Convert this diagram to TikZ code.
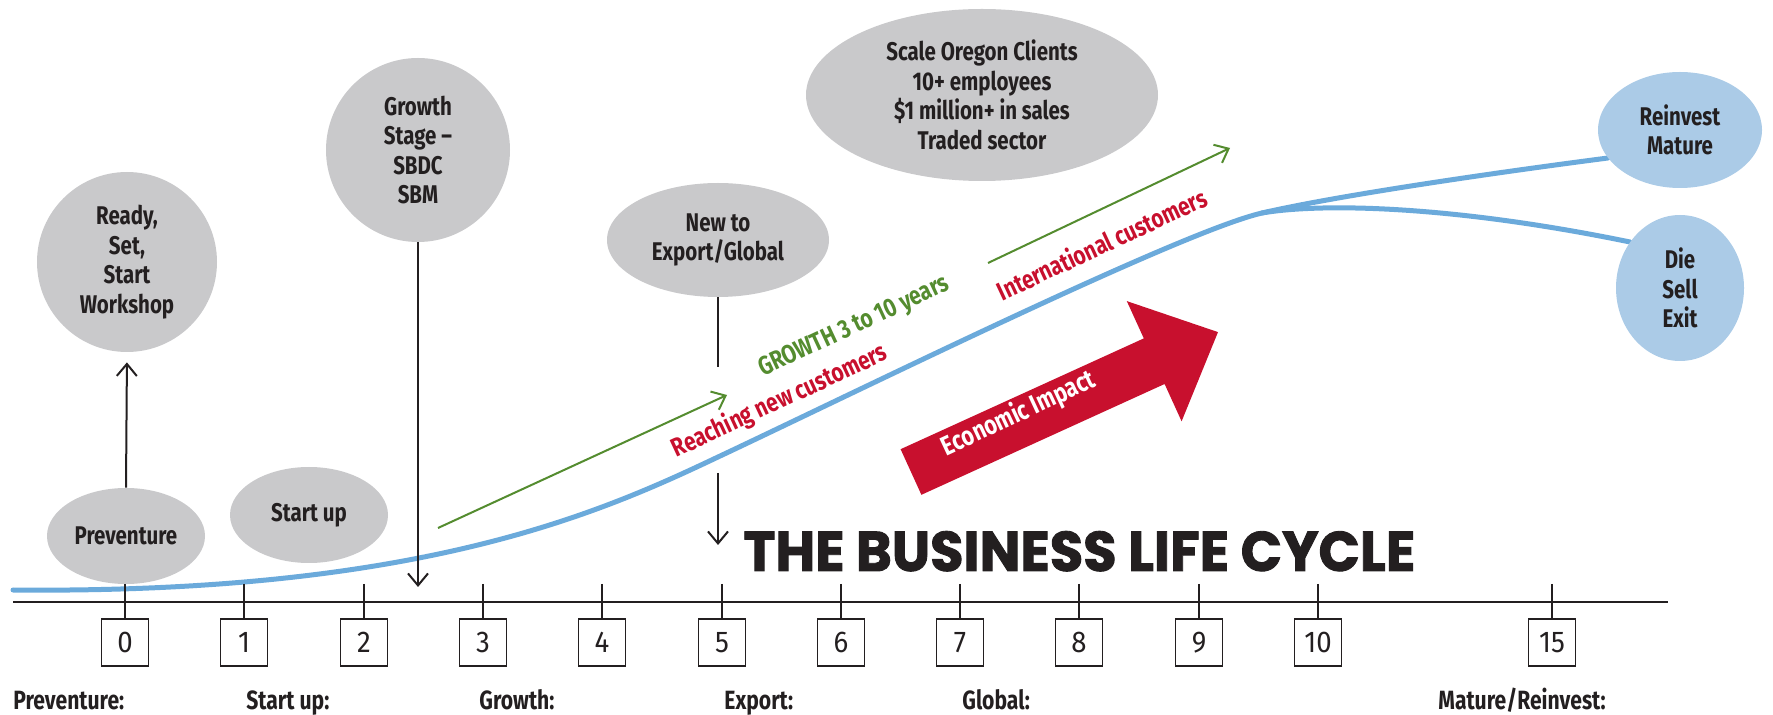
\documentclass[tikz,border=0pt]{standalone}
\usepackage{fontspec}
\setmainfont{Fira Sans}[FakeStretch=0.8]
\newfontfamily\digitfont{Fira Sans}[FakeStretch=0.92]
\newfontfamily\titlefont{Poppins}[FakeStretch=0.97, BoldFeatures={FakeBold=1.6}]
\usetikzlibrary{shapes.geometric,arrows.meta}
\definecolor{bub}{RGB}{201,201,203}
\definecolor{bluefill}{RGB}{171,203,231}
\definecolor{bluel}{RGB}{107,170,219}
\definecolor{redc}{RGB}{200,16,46}
\definecolor{grn}{RGB}{84,140,47}
\definecolor{ink}{RGB}{35,31,32}
\tikzset{
  bubble/.style={ellipse, fill=bub, inner sep=0pt, align=center, text=ink,
    font=\fontsize{12.8}{14.75}\selectfont\bfseries},
  bluebub/.style={bubble, fill=bluefill},
  numbox/.style={draw=ink, line width=0.7pt, minimum size=23.5pt, inner sep=0pt,
    font=\digitfont\fontsize{15}{16}\selectfont, text=ink},
  axislabel/.style={anchor=base west, inner sep=0pt, font=\fontsize{13.2}{15}\selectfont\bfseries, text=ink},
  lead/.style={draw=ink, line width=1pt, -{Straight Barb[length=6pt,width=10pt]}},
  plainlead/.style={draw=ink, line width=1pt},
  greenarrow/.style={draw=grn, line width=1pt, -{Straight Barb[length=6pt,width=10pt]}},
  slant/.style={anchor=base, inner sep=0pt, rotate=25, font=\fontsize{13}{15}\selectfont\bfseries},
  bluecurve/.style={draw=bluel, line width=2.5pt, line cap=round},
  tickline/.style={draw=ink, line width=1pt}
}
\begin{document}
\begin{tikzpicture}[x=0.5pt,y=-0.5pt]
\useasboundingbox (0,0) rectangle (1773,715);

% blue life-cycle curve
\coordinate (c0) at (13,590);
\coordinate (c1) at (718,457);
\coordinate (split) at (1262,213);
\coordinate (c2) at (1608,158);
\coordinate (c3) at (1630,242);
\draw[bluecurve] (c0) .. controls (420,594) and (600,513) .. (c1)
  .. controls (850,395) and (1180,232) .. (split)
  .. controls (1340,195) and (1500,172) .. (c2);
\draw[bluecurve] (split) .. controls (1320,203) and (1450,205) .. (c3);

% bubbles
\node[bubble, minimum width=90pt, minimum height=90pt] (ready) at (127,262) {Ready,\\Set,\\Start\\Workshop};
\node[bubble, minimum width=79pt, minimum height=48pt] (prev) at (126,536) {Preventure};
\node[bubble, minimum width=79pt, minimum height=48pt] (startup) at (309,515) {Start up};
\node[bubble, minimum width=92pt, minimum height=92pt] (growth) at (418,150) {Growth\\Stage --\\SBDC\\SBM};
\node[bubble, minimum width=111pt, minimum height=57pt] (export) at (718,240) {New to\\Export/Global};
\node[bubble, minimum width=176pt, minimum height=86pt] (scale) at (982,95) {Scale Oregon Clients\\10+ employees\\\$1 million+ in sales\\Traded sector};
\node[bluebub, minimum width=82pt, minimum height=58pt] (reinvest) at (1680,130) {Reinvest\\Mature};
\node[bluebub, minimum width=64pt, minimum height=73pt] (die) at (1680,288) {Die\\Sell\\Exit};

% leader arrows
\draw[lead, shorten >=5pt] (prev.north) -- (ready.south);
\coordinate (gtip) at (418,587);
\draw[lead] (growth.south) -- (gtip);
\coordinate (e1) at (718,367);
\coordinate (e2) at (718,473);
\coordinate (e3) at (718,545);
\draw[plainlead] (export.south) -- (e1);
\draw[lead] (e2) -- (e3);

% green growth arrows
\coordinate (g1) at (438,528);
\coordinate (g2) at (727,395);
\coordinate (g3) at (988,263);
\coordinate (g4) at (1230,148);
\draw[greenarrow] (g1) -- (g2);
\draw[greenarrow] (g3) -- (g4);

% slanted texts
\node[slant, text=grn] (growtxt) at (857,333) {GROWTH 3 to 10 years};
\node[slant, text=redc] (reach) at (783,408) {Reaching new customers};
\node[slant, text=redc] (intl) at (1106,253) {International customers};

% economic impact arrow
\fill[redc] (900.6,449.2) -- (921.4,494.8) -- (1164.6,384) -- (1181.6,421.3) -- (1218,332.1) -- (1126.8,301.1) -- (1143.8,338.4) -- cycle;
\node[slant, text=white, font=\fontsize{13.5}{16}\selectfont\bfseries] (econ) at (1022,421) {Economic Impact};

% title
\node[anchor=base west, inner sep=0pt, text=ink, font=\titlefont\bfseries\fontsize{28}{32}\selectfont] (title) at (743,571) {THE BUSINESS LIFE CYCLE};

% axis
\coordinate (ax0) at (13,602);
\coordinate (ax1) at (1668,602);
\draw[draw=ink, line width=1.4pt] (ax0) -- (ax1);
\foreach \n/\x in {0/125,1/244,2/364,3/483,4/602,5/722,6/841,7/960,8/1079,9/1199,10/1318,15/1552} {
  \coordinate (t\n) at (\x,584);
  \node[numbox] (b\n) at (\x,642.5) {\n};
  \draw[tickline] (t\n) -- (b\n.north);
}

% stage labels
\node[axislabel] (lprev) at (13,710) {Preventure:};
\node[axislabel] (lstart) at (246,710) {Start up:};
\node[axislabel] (lgrowth) at (479,710) {Growth:};
\node[axislabel] (lexport) at (724,710) {Export:};
\node[axislabel] (lglobal) at (962,710) {Global:};
\node[axislabel] (lmature) at (1438,710) {Mature/Reinvest:};
\end{tikzpicture}
\end{document}
